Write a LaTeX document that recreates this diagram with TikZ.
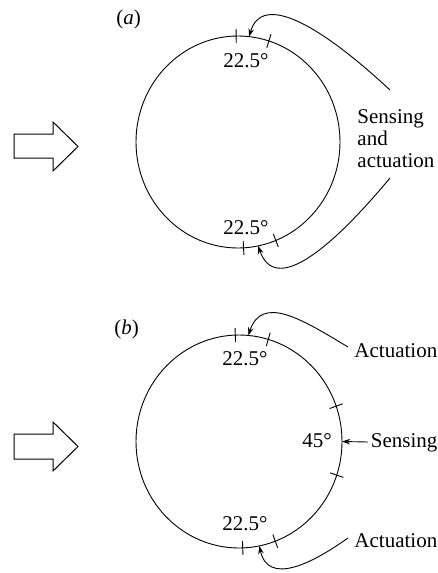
\documentclass[tikz,border=0pt]{standalone}
\usepackage{fontspec}
\setmainfont{Liberation Serif}
\usetikzlibrary{shapes.geometric,arrows.meta,calc}
\begin{document}
\begin{tikzpicture}[x=1pt,y=-1pt,
  line width=0.9pt,
  ring/.style={draw,ellipse,inner sep=0pt,outer sep=0pt},
  lbl/.style={anchor=base west,inner sep=0pt,font=\fontsize{21}{22}\selectfont},
  conn/.style={-{Stealth[length=8pt,width=5.5pt]}},
  blockarrow/.style={draw,line width=1pt,line join=miter}]
\useasboundingbox (0,0) rectangle (438,573);
% ---------- (a) ----------
\node[ring,minimum width=204pt,minimum height=212pt] (ca) at (238,142) {};
\node[lbl] (la) at (116,24) {(\textit{a})};
\node[lbl] (ta1) at (223,67) {22.5°};
\node[lbl] (ta2) at (223,234) {22.5°};
\node[lbl] (sa1) at (357,123) {Sensing};
\node[lbl] (sa2) at (357,145) {and};
\node[lbl] (sa3) at (357,167) {actuation};
\foreach \a in {91.7,73.6,-87.8,-69.7}
  \draw ($(ca.\a)!7pt!(ca.center)$) -- ($(ca.\a)!-7pt!(ca.center)$);
\coordinate (sa-top) at (390,90);
\coordinate (sa-bot) at (390,178);
\draw[conn] (sa-top) .. controls (320,25) and (262,-8) .. (ca.84);
\draw[conn] (sa-bot) .. controls (330,250) and (275,295) .. (ca.-79);
\draw[blockarrow] (14,134) -- (53,134) -- (53,122) -- (78,146.5) -- (53,171) -- (53,158) -- (14,158) -- cycle;
% ---------- (b) ----------
\node[ring,minimum width=206pt,minimum height=213pt] (cb) at (239,441.5) {};
\node[lbl] (lb) at (114,334) {(\textit{b})};
\node[lbl] (tb1) at (222,365) {22.5°};
\node[lbl] (tb2) at (222,530) {22.5°};
\node[lbl] (tb3) at (302,447) {45°};
\node[lbl] (act1) at (354,357) {Actuation};
\node[lbl] (sens) at (370.5,447) {Sensing};
\node[lbl] (act2) at (354,547) {Actuation};
\foreach \a in {92.7,74,-88.4,-70,20.6,-19}
  \draw ($(cb.\a)!7pt!(cb.center)$) -- ($(cb.\a)!-7pt!(cb.center)$);
\coordinate (ab-top) at (348,347);
\coordinate (ab-bot) at (348,538);
\coordinate (sb) at (368,442);
\draw[conn] (ab-top) .. controls (300,318) and (262,295) .. (cb.85);
\draw[conn] (ab-bot) .. controls (310,565) and (268,585) .. (cb.-79);
\draw[conn] (sb) -- (cb.east);
\draw[blockarrow] (14,434) -- (53,434) -- (53,422) -- (78,446.5) -- (53,471) -- (53,459) -- (14,459) -- cycle;
\end{tikzpicture}
\end{document}
